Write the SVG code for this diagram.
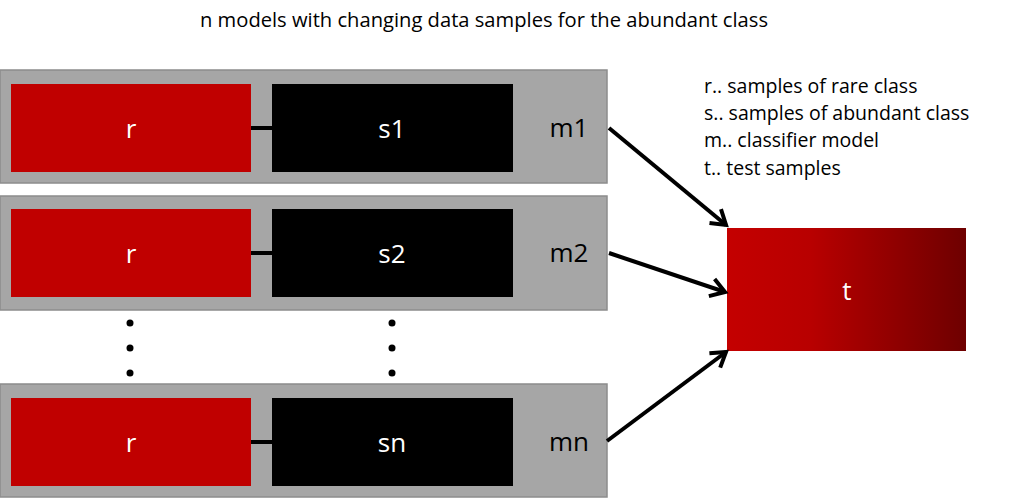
<svg xmlns="http://www.w3.org/2000/svg" width="1024" height="499" viewBox="0 0 1024 499">
<defs>
<linearGradient id="tg" x1="0" y1="0" x2="1" y2="0">
<stop offset="0" stop-color="#c40000"/>
<stop offset="0.35" stop-color="#b80000"/>
<stop offset="1" stop-color="#6e0000"/>
</linearGradient>
<marker id="ah" viewBox="-16 -12 20 24" markerWidth="20" markerHeight="24" refX="0" refY="0" orient="auto" markerUnits="userSpaceOnUse">
<path d="M-14,-9 L0,0 L-14,9" fill="none" stroke="#000" stroke-width="4" stroke-linejoin="miter"/>
</marker>
<style>
.row{fill:#a6a6a6;stroke:#8c8c8c;stroke-width:1.5}
.r{fill:#c00000}
.s{fill:#000}
.wt{fill:#fff;font-family:"Open Sans","Noto Sans",sans-serif;font-size:26px;text-anchor:middle}
.bt{fill:#000;font-family:"Open Sans","Noto Sans",sans-serif;font-size:26px;text-anchor:middle}
.lg{fill:#000;font-family:"Open Sans","Noto Sans",sans-serif;font-size:19.5px}
.conn{stroke:#000;stroke-width:4;fill:none}
</style>
</defs>
<rect width="1024" height="499" fill="#fff"/>
<text id="title" x="484" y="27" class="lg" text-anchor="middle" textLength="568" lengthAdjust="spacingAndGlyphs">n models with changing data samples for the abundant class</text>
<g id="legend">
<text x="704" y="93" class="lg">r.. samples of rare class</text>
<text x="704" y="120" class="lg">s.. samples of abundant class</text>
<text x="704" y="147" class="lg">m.. classifier model</text>
<text x="704" y="175" class="lg">t.. test samples</text>
</g>
<g id="model1">
<rect class="row" x="0" y="70" width="607" height="113"/>
<rect class="r" x="11" y="84" width="240" height="88"/>
<rect class="s" x="272" y="84" width="241" height="88"/>
<text class="wt" x="131" y="138">r</text>
<text class="wt" x="392" y="138">s1</text>
<text class="bt" x="569" y="137">m1</text>
</g>
<g id="model2">
<rect class="row" x="0" y="196" width="607" height="114"/>
<rect class="r" x="11" y="209" width="240" height="88"/>
<rect class="s" x="272" y="209" width="241" height="88"/>
<text class="wt" x="131" y="263">r</text>
<text class="wt" x="392" y="263">s2</text>
<text class="bt" x="569" y="262">m2</text>
</g>
<g id="dots">
<circle cx="130" cy="323" r="3.5"/>
<circle cx="130" cy="348" r="3.5"/>
<circle cx="130" cy="373" r="3.5"/>
<circle cx="392" cy="323" r="3.5"/>
<circle cx="392" cy="348" r="3.5"/>
<circle cx="392" cy="373" r="3.5"/>
</g>
<g id="modeln">
<rect class="row" x="0" y="384" width="607" height="113"/>
<rect class="r" x="11" y="398" width="240" height="88"/>
<rect class="s" x="272" y="398" width="241" height="88"/>
<text class="wt" x="131" y="452">r</text>
<text class="wt" x="392" y="452">sn</text>
<text class="bt" x="569" y="451">mn</text>
</g>
<g id="test">
<rect x="727" y="228" width="239" height="123" fill="url(#tg)"/>
<text class="wt" x="847" y="300">t</text>
</g>
<g id="connectors">
<line class="conn" x1="251" y1="128" x2="272" y2="128"/>
<line class="conn" x1="251" y1="253" x2="272" y2="253"/>
<line class="conn" x1="251" y1="442" x2="272" y2="442"/>
<line class="conn" x1="609" y1="128" x2="726" y2="225" marker-end="url(#ah)"/>
<line class="conn" x1="609" y1="253" x2="725" y2="292" marker-end="url(#ah)"/>
<line class="conn" x1="607" y1="441" x2="726" y2="352" marker-end="url(#ah)"/>
</g>
</svg>
